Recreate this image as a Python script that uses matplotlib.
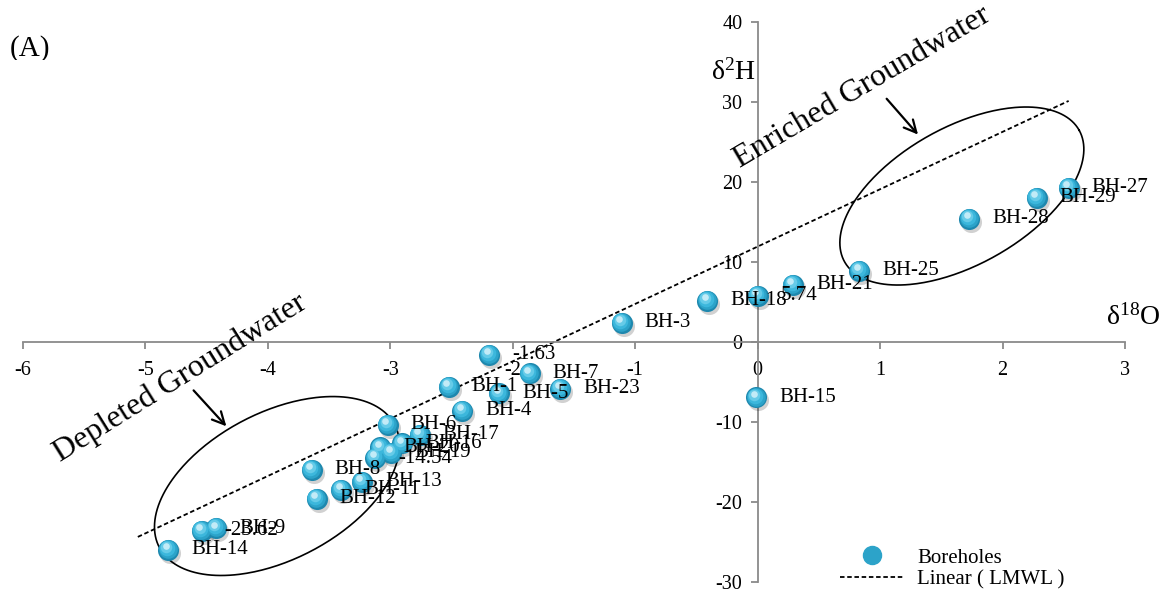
import matplotlib
matplotlib.use("Agg")
import matplotlib.pyplot as plt
import numpy as np
from matplotlib.lines import Line2D
from matplotlib.transforms import Bbox, offset_copy

plt.rcParams["font.family"] = ["Liberation Serif", "DejaVu Serif"]
plt.rcParams["mathtext.fontset"] = "custom"
plt.rcParams["mathtext.rm"] = "Liberation Serif"
plt.rcParams["mathtext.it"] = "Liberation Serif:italic"
plt.rcParams["axes.unicode_minus"] = False

# ── Datos (δ18O, δ2H) ─────────────────────────────────────────────────────────
point_labels = [
    "-1.63", "BH-1", "BH-7", "BH-5", "BH-23", "BH-4", "BH-3", "BH-18",
    "5.74", "BH-21", "BH-15", "BH-25", "BH-28", "BH-29", "BH-27",
    "BH-6", "BH-17", "BH-16", "BH-19", "BH-20", "-14.54", "BH-8",
    "BH-13", "BH-11", "BH-12", "BH-14", "-23.62", "BH-9",
]
d18o = [
    -2.19, -2.52, -1.86, -2.11, -1.61, -2.41, -1.11, -0.41,
    0.00, 0.29, -0.01, 0.83, 1.73, 2.28, 2.54,
    -3.02, -2.76, -2.90, -2.99, -3.08, -3.12, -3.64,
    -3.23, -3.40, -3.60, -4.81, -4.54, -4.42,
]
d2h = [
    -1.63, -5.62, -3.95, -6.45, -5.91, -8.63, 2.38, 5.09,
    5.74, 7.09, -6.95, 8.88, 15.34, 18.00, 19.25,
    -10.40, -11.66, -12.70, -13.90, -13.20, -14.54, -16.00,
    -17.50, -18.50, -19.60, -26.00, -23.62, -23.30,
]

# Recta meteórica local (LMWL)
lmwl_x = [-5.06, 2.54]
lmwl_y = [-24.4, 30.1]

X_TICKS = list(range(-6, 4))
Y_TICKS = list(range(-30, 41, 10))

AXIS_GREY = "#8a8a8a"
W, H = 1167, 603
PX_X = 122.5   # píxeles por unidad de δ18O
PX_Y = 8.0     # píxeles por unidad de δ2H

fig = plt.figure(figsize=(W / 100, H / 100), dpi=100)
ax = fig.add_axes([22.7 / W, 21.3 / H, 1102.3 / W, 560 / H])
ax.set_xlim(-6, 3)
ax.set_ylim(-30, 40)

# ── Ejes cruzados en el origen ────────────────────────────────────────────────
for side in ["top", "right"]:
    ax.spines[side].set_visible(False)
for side in ["left", "bottom"]:
    ax.spines[side].set_position(("data", 0))
    ax.spines[side].set_color(AXIS_GREY)
    ax.spines[side].set_linewidth(1.3)
ax.set_xticks(X_TICKS)
ax.set_yticks(Y_TICKS)
ax.tick_params(axis="x", direction="out", length=5, width=1.3, color=AXIS_GREY,
               pad=9, labelsize=14.5)
ax.tick_params(axis="y", direction="out", length=5, width=1.3, color=AXIS_GREY,
               pad=6, labelsize=14.5)

# ── LMWL ──────────────────────────────────────────────────────────────────────
ax.plot(lmwl_x, lmwl_y, color="black", lw=1.3, dashes=(2.5, 1.5), zorder=2)

# ── Puntos con aspecto de esfera ──────────────────────────────────────────────
S = 230
shadow_tr = offset_copy(ax.transData, fig, x=2, y=-3, units="dots")
ax.scatter(d18o, d2h, s=S, color="black", alpha=0.18, lw=0, transform=shadow_tr, zorder=3)
layers = [
    (1.00, "#1e88ae", 0, 0),
    (0.78, "#2ca3c9", -0.7, 0.8),
    (0.55, "#3cb7dc", -1.4, 1.8),
    (0.30, "#66cbe8", -2.0, 2.8),
    (0.10, "#c2ebf7", -2.6, 3.6),
]
for scale, col, dx, dy in layers:
    tr = offset_copy(ax.transData, fig, x=dx, y=dy, units="dots")
    ax.scatter(d18o, d2h, s=S * scale, color=col, lw=0, transform=tr, zorder=4)

for lab, x, y in zip(point_labels, d18o, d2h):
    ax.annotate(lab, (x, y), xytext=(16.5, 0), textcoords="offset points",
                ha="left", va="center", fontsize=15, zorder=6)

# ── Elipses de agrupación (definidas en píxeles) ──────────────────────────────
def draw_ellipse(cx, cy, a_px, b_px, angle_deg):
    t = np.linspace(0, 2 * np.pi, 300)
    ang = np.radians(angle_deg)
    dx = a_px * np.cos(t) * np.cos(ang) - b_px * np.sin(t) * np.sin(ang)
    dy = a_px * np.cos(t) * np.sin(ang) + b_px * np.sin(t) * np.cos(ang)
    ax.plot(cx + dx / PX_X, cy + dy / PX_Y, color="black", lw=1.2, zorder=2)

draw_ellipse(-3.924, -18.04, 132.7, 73.5, 27.5)
draw_ellipse(1.668, 18.21, 134.5, 68.7, 29.3)

# ── Anotaciones ───────────────────────────────────────────────────────────────
ax.text(-5.696, -15.04, "Depleted Groundwater", rotation=32, rotation_mode="anchor",
        ha="left", va="baseline", fontsize=23)
ax.text(-0.144, 21.71, "Enriched Groundwater", rotation=30.5, rotation_mode="anchor",
        ha="left", va="baseline", fontsize=23)
arrow = dict(arrowstyle="->", color="black", lw=1.6, mutation_scale=22)
ax.annotate("", xy=(-4.322, -10.83), xytext=(-4.620, -5.83), arrowprops=arrow)
ax.annotate("", xy=(1.325, 25.63), xytext=(1.039, 30.63), arrowprops=arrow)

# ── Títulos de ejes y rótulo ──────────────────────────────────────────────────
fig.text(711 / W, 1 - 80 / H, r"δ$^{\mathrm{2}}$H", ha="left", va="baseline", fontsize=20)
fig.text(1106 / W, 1 - 325 / H, r"δ$^{\mathrm{18}}$O", ha="left", va="baseline", fontsize=20)
panel = fig.text(10 / W, 1 - 35 / H, "(A)", ha="left", va="top", fontsize=21)
panel.set_clip_box(Bbox.from_extents(0, H - 60, 200, H))
panel.set_clip_on(True)

# ── Leyenda ───────────────────────────────────────────────────────────────────
handles = [
    Line2D([], [], ls="none", marker="o", markersize=13, color="#2ca3c9"),
    Line2D([], [], color="black", lw=1.3, dashes=(2.5, 1.5)),
]
ax.legend(handles, ["Boreholes", "Linear ( LMWL )"], loc="upper left",
          bbox_to_anchor=(840 / W, 1 - 548 / H), bbox_transform=fig.transFigure,
          frameon=False, fontsize=15, handlelength=3.1, handletextpad=0.6,
          labelspacing=0.1, borderpad=0, borderaxespad=0)

fig.savefig("out.png", dpi=100)
plt.close(fig)
